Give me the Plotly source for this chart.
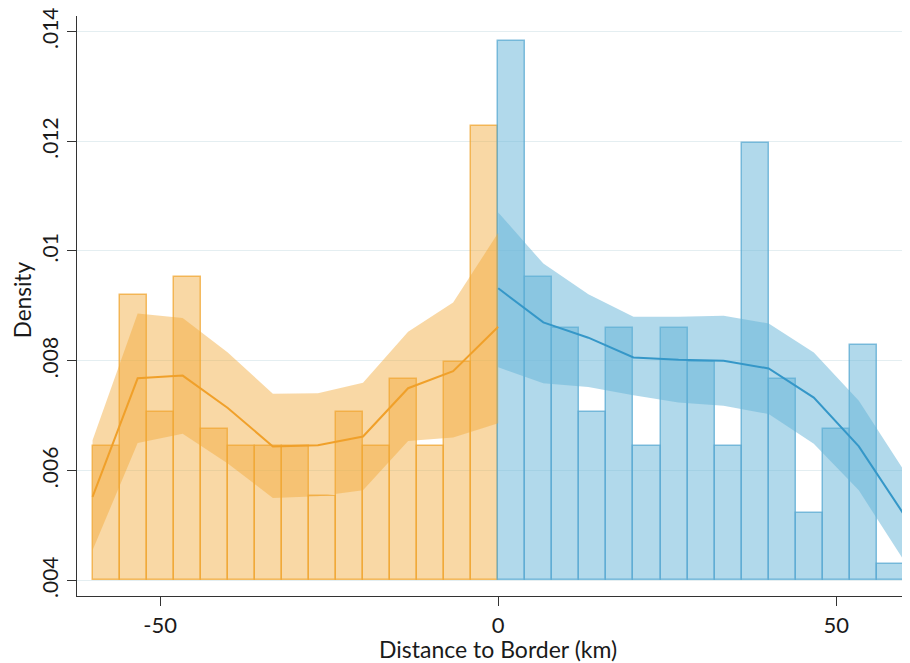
import plotly.graph_objects as go

# ---- data ----
left_bin_centers = [-58, -54, -50, -46, -42, -38, -34, -30, -26, -22, -18, -14, -10, -6, -2]
left_density = [0.00644, 0.00920, 0.00706, 0.00952, 0.00675, 0.00644, 0.00644, 0.00644,
                0.00553, 0.00706, 0.00644, 0.00767, 0.00644, 0.00798, 0.01228]
right_bin_centers = [2, 6, 10, 14, 18, 22, 26, 30, 34, 38, 42, 46, 50, 54, 58]
right_density = [0.01382, 0.00952, 0.00859, 0.00706, 0.00859, 0.00644, 0.00859, 0.00798,
                 0.00644, 0.01196, 0.00767, 0.00522, 0.00675, 0.00828, 0.00429]

left_fit_x = [-60, -53.33, -46.67, -40, -33.33, -26.67, -20, -13.33, -6.67, 0]
left_fit = [0.00552, 0.00768, 0.00773, 0.00714, 0.00644, 0.00646, 0.00662, 0.00750, 0.00781, 0.00862]
left_upper = [0.00655, 0.00886, 0.00878, 0.00815, 0.00740, 0.00741, 0.00760, 0.00853, 0.00906, 0.01033]
left_lower = [0.00455, 0.00650, 0.00667, 0.00613, 0.00550, 0.00553, 0.00564, 0.00654, 0.00660, 0.00686]

right_fit_x = [0, 6.67, 13.33, 20, 26.67, 33.33, 40, 46.67, 53.33, 60]
right_fit = [0.00932, 0.00870, 0.00842, 0.00806, 0.00802, 0.00800, 0.00786, 0.00733, 0.00644, 0.00520]
right_upper = [0.01070, 0.00977, 0.00921, 0.00880, 0.00880, 0.00882, 0.00868, 0.00815, 0.00727, 0.00600]
right_lower = [0.00788, 0.00759, 0.00752, 0.00737, 0.00724, 0.00718, 0.00703, 0.00649, 0.00564, 0.00436]

y_tickvals = [0.004, 0.006, 0.008, 0.010, 0.012, 0.014]
y_ticktext = [".004", ".006", ".008", ".01", ".012", ".014"]
x_tickvals = [-50, 0, 50]
x_ticktext = ["-50", "0", "50"]
x_title = "Distance to Border (km)"
y_title = "Density"

BAR_BASE = 0.004
BIN_WIDTH = 4

ORANGE_FILL = "rgba(241,168,56,0.45)"
ORANGE_EDGE = "rgba(240,165,50,0.75)"
ORANGE_LINE = "#F0A02A"
BLUE_FILL = "rgba(100,180,215,0.5)"
BLUE_EDGE = "rgba(90,170,210,0.75)"
BLUE_LINE = "#3597C8"

FONT = "Lato"

fig = go.Figure()

def add_side(centers, dens, fx, fit, up, lo, fill, edge, line):
    fig.add_trace(go.Bar(
        x=centers, y=[d - BAR_BASE for d in dens], base=BAR_BASE, width=BIN_WIDTH,
        marker=dict(color=fill, line=dict(color=edge, width=1.5)),
        showlegend=False, hoverinfo="skip"))
    fig.add_trace(go.Scatter(
        x=list(fx) + list(fx)[::-1], y=list(up) + list(lo)[::-1],
        fill="toself", fillcolor=fill, line=dict(width=0), mode="lines",
        showlegend=False, hoverinfo="skip"))
    fig.add_trace(go.Scatter(
        x=fx, y=fit, mode="lines", line=dict(color=line, width=2),
        showlegend=False))

add_side(left_bin_centers, left_density, left_fit_x, left_fit, left_upper, left_lower,
         ORANGE_FILL, ORANGE_EDGE, ORANGE_LINE)
add_side(right_bin_centers, right_density, right_fit_x, right_fit, right_upper, right_lower,
         BLUE_FILL, BLUE_EDGE, BLUE_LINE)

# the page body has an 8px margin, so the figure is sized to fit the window after it
fig.update_layout(
    width=902, height=655,
    margin=dict(l=69, r=0, t=8, b=67, autoexpand=False),
    plot_bgcolor="white", paper_bgcolor="white",
    bargap=0, barmode="overlay",
    font=dict(family=FONT, color="#1a1a1a"),
    xaxis=dict(
        range=[-62.3, 60.9], tickvals=x_tickvals, ticktext=x_ticktext,
        showgrid=False, zeroline=False, automargin=False,
        showline=True, linecolor="#333333", linewidth=1.3,
        ticks="outside", ticklen=9, tickwidth=1.3, tickcolor="#333333",
        tickfont=dict(size=22, family=FONT), ticklabeloverflow="allow",
    ),
    yaxis=dict(
        range=[0.003715, 0.01428], tickvals=y_tickvals, ticktext=y_ticktext,
        tickangle=-90, automargin=False, ticklabeloverflow="allow",
        showgrid=True, gridcolor="#E4EEF1", gridwidth=1.2, zeroline=False,
        showline=True, linecolor="#333333", linewidth=1.3,
        ticks="outside", ticklen=9, tickwidth=1.3, tickcolor="#333333",
        tickfont=dict(size=21, family=FONT),
    ),
    annotations=[
        dict(text=x_title, xref="x", x=0, yref="paper", y=0, yshift=-53,
             xanchor="center", yanchor="middle", showarrow=False,
             font=dict(size=23, family=FONT, color="#1a1a1a")),
        dict(text=y_title, xref="paper", x=0, xshift=-55, yref="paper", y=0.51,
             xanchor="center", yanchor="middle", textangle=-90, showarrow=False,
             font=dict(size=22.5, family=FONT, color="#1a1a1a")),
    ],
)

fig.write_html("out.html")
